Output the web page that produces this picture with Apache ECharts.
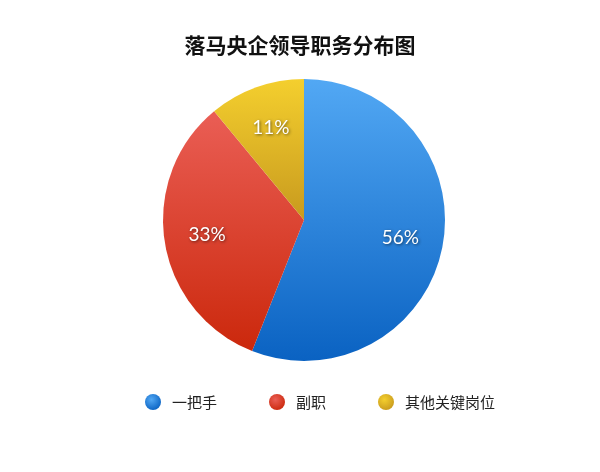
<!DOCTYPE html>
<html><head><meta charset="utf-8">
<script src="https://cdn.jsdelivr.net/npm/echarts@6/dist/echarts.min.js"></script>
<style>html,body{margin:0;padding:0;background:#fff}#c{width:600px;height:472px}</style>
</head><body><div id="c"></div>
<script>
const titleText = '落马央企领导职务分布图';
const categories = ['一把手', '副职', '其他关键岗位'];
const values = [56, 33, 11];
const topColors = ['#52a8f4', '#ea5e55', '#f4cf2e'];
const bottomColors = ['#0a62c2', '#cb280c', '#c89a1e'];
const legendColors = ['#2a86e0', '#e0392a', '#e6b61e'];

function grad(i){
  return new echarts.graphic.LinearGradient(0,0,0,1,[{offset:0,color:topColors[i]},{offset:1,color:bottomColors[i]}]);
}
const mainData = categories.map((n,i)=>({name:n,value:values[i],itemStyle:{color:grad(i)}}));
const labelData = categories.map((n,i)=>({name:n,value:values[i]}));

const chart = echarts.init(document.getElementById('c'));
chart.setOption({
  backgroundColor:'#ffffff',
  animation:false,
  title:{text:titleText,left:'center',top:30,textStyle:{fontFamily:'Noto Sans CJK SC',fontSize:21,fontWeight:'bold',color:'#111'}},
  legend:{
    data:categories.map((n,i)=>({name:n,itemStyle:{color:new echarts.graphic.RadialGradient(0.4,0.35,0.7,[{offset:0,color:topColors[i]},{offset:1,color:bottomColors[i]}])}})),
    left:140, top:389, icon:'circle', itemWidth:16, itemHeight:16, itemGap:52,
    textStyle:{fontFamily:'Noto Sans CJK SC',fontSize:15,color:'#222',padding:[0,0,0,6]}
  },
  series:[
    {type:'pie',center:[304,220],radius:[0,141],startAngle:90,clockwise:true,silent:true,
     label:{show:false},labelLine:{show:false},data:mainData},
    {type:'pie',center:[304,220],radius:[49,141],startAngle:90,clockwise:true,silent:true,
     itemStyle:{color:'rgba(0,0,0,0)'},legendHoverLink:false,
     label:{show:true,position:'inside',formatter:'{c}%',fontFamily:'Lato',fontSize:19,color:'#fff',
       textShadowColor:'rgba(0,0,0,0.55)',textShadowBlur:3,textShadowOffsetX:1,textShadowOffsetY:1},
     labelLine:{show:false},data:labelData}
  ]
});
</script></body></html>
